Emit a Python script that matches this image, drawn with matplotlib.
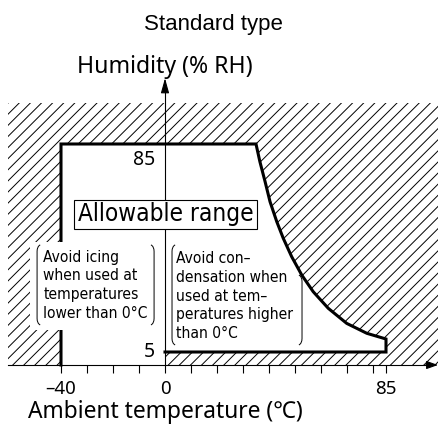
import matplotlib
matplotlib.use("Agg")
import matplotlib.pyplot as plt
from matplotlib.patches import Rectangle, Polygon, PathPatch
from matplotlib.path import Path

plt.rcParams['hatch.linewidth'] = 0.7

# allowable range boundary (temperature degC, humidity %RH)
edge_temp = [-40, -40, 35.0, 36.5, 38.5, 40.4, 43.0, 45.5, 48.7, 52.6, 57.0, 62.8, 69.9, 77.6, 85.0, 85.0, 0]
edge_hum = [0, 85, 85, 78.2, 70.5, 62.8, 55.1, 48.7, 41.7, 34.6, 28.2, 21.8, 16.0, 12.2, 10.0, 5, 5]

x_ticks = [-40, -30, -20, -10, 0, 10, 20, 30, 40, 50, 60, 70, 80, 85]
x_labels = ['\u201340', '', '', '', '0', '', '', '', '', '', '', '', '', '85']
y_ticks = [10, 20, 30, 40, 50, 60, 70, 80]

title = 'Standard type'
xlabel = 'Ambient temperature (\u2103)'
ylabel = 'Humidity (% RH)'
note_left = 'Avoid icing\nwhen used at\ntemperatures\nlower than 0\u00b0C'
note_right = 'Avoid con\u2013\ndensation when\nused at tem\u2013\nperatures higher\nthan 0\u00b0C'

main_font = ['Noto Sans', 'DejaVu Sans']

fig = plt.figure(figsize=(4.38, 4.24), dpi=100)
ax = fig.add_axes([0, 0, 1, 1])
ax.set_xlim(-63.46, 105.0)
ax.set_ylim(-22.69, 140.38)

# hatched background, then the allowable area in white
ax.add_patch(Rectangle((-60.4, 0), 165.4, 100.8, facecolor='white',
                       edgecolor='black', lw=0, hatch='///', zorder=1))
poly = list(zip(edge_temp, edge_hum)) + [(0, 0)]
ax.add_patch(Polygon(poly, closed=True, facecolor='white', edgecolor='none', zorder=2))
ax.plot(edge_temp, edge_hum, color='black', lw=2.2, solid_joinstyle='miter', zorder=4)

# axes through the origin
for s in ['top', 'right']:
    ax.spines[s].set_visible(False)
ax.spines['left'].set_position(('data', 0))
ax.spines['bottom'].set_position(('data', 0))
ax.spines['left'].set_bounds(0, 106)
ax.spines['bottom'].set_bounds(-60.4, 102)
ax.spines['left'].set_linewidth(0.8)
ax.spines['bottom'].set_linewidth(0.8)
ax.annotate('', xy=(105.0, 0), xytext=(100, 0),
            arrowprops=dict(arrowstyle='-|>,head_length=0.7,head_width=0.25',
                            color='black', lw=0.8, shrinkA=0, shrinkB=0), zorder=3)
ax.annotate('', xy=(0, 110.3), xytext=(0, 105),
            arrowprops=dict(arrowstyle='-|>,head_length=0.9,head_width=0.25',
                            color='black', lw=0.8, shrinkA=0, shrinkB=0), zorder=3)

ax.set_xticks(x_ticks)
ax.set_xticklabels(x_labels, family=main_font, fontsize=13.5)
ax.set_yticks(y_ticks)
ax.set_yticklabels([])
ax.tick_params(direction='out', length=5.5, width=0.8, pad=5)

ax.text(-3.8, 79.0, '85', ha='right', va='center', family=main_font, fontsize=14)
ax.text(-3.8, 5, '5', ha='right', va='center', family=main_font, fontsize=14)

ax.text(18.8, 130.8, title, ha='center', va='center', fontsize=16,
        family=['Liberation Sans', 'DejaVu Sans'])
ax.text(0, 114.6, ylabel, ha='center', va='center', family=main_font, fontsize=16.6)
ax.text(0, -17.9, xlabel, ha='center', va='center', family=main_font, fontsize=16.4)

# allowable range label box
ax.add_patch(Rectangle((-35.0, 52.3), 70.4, 11.2, facecolor='white',
                       edgecolor='black', lw=0.8, zorder=5))
ax.text(0.2, 57.9, 'Allowable range', ha='center', va='center',
        family='DejaVu Sans', stretch='condensed', fontsize=17.5, zorder=6)

# notes with brackets
ax.add_patch(Rectangle((-51.9, 13.5), 49.2, 33.8, facecolor='white',
                       edgecolor='none', zorder=5))


def bracket(x, top, bot, side):
    c = 1.2 * side
    pts = [(x + c, top), (x, top - 0.6), (x, top - 2.5), (x, bot + 2.5),
           (x, bot + 0.6), (x + c, bot)]
    codes = [Path.MOVETO, Path.CURVE3, Path.CURVE3, Path.LINETO,
             Path.CURVE3, Path.CURVE3]
    ax.add_patch(PathPatch(Path(pts, codes), facecolor='none',
                           edgecolor='black', lw=0.7, zorder=6))


bracket(-49.2, 46.2, 15.4, 1)
bracket(-4.2, 46.2, 15.4, -1)
bracket(2.7, 46.2, 7.7, 1)
bracket(52.7, 34.6, 7.7, -1)

ax.text(-46.8, 18.2, note_left, ha='left', va='baseline', family='DejaVu Sans',
        stretch='condensed', fontsize=11.2, linespacing=1.31, zorder=6)
ax.text(4.1, 10.4, note_right, ha='left', va='baseline', family='DejaVu Sans',
        stretch='condensed', fontsize=11.2, linespacing=1.31, zorder=6)

fig.savefig('out.png', dpi=100)
